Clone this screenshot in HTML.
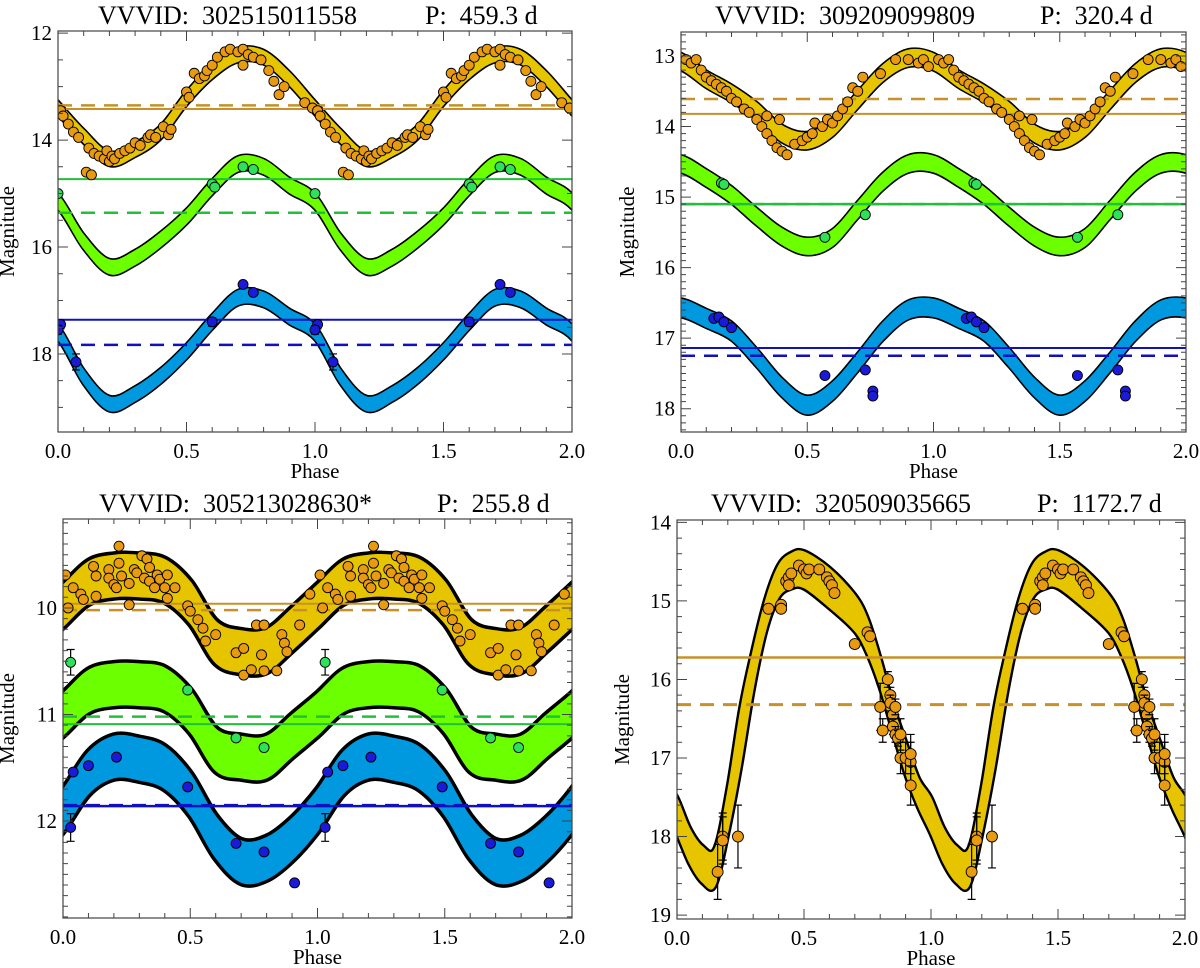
<!DOCTYPE html>
<html><head><meta charset="utf-8"><style>
html,body{margin:0;padding:0;background:#fff}
svg{display:block;font-family:"Liberation Serif",serif}
</style></head><body>
<svg id="fig" width="1200" height="968" viewBox="0 0 1200 968" xmlns="http://www.w3.org/2000/svg"></svg>
<script>
// ---------- Panel 1 data ----------
const p1Phases=[0,0.1,0.2,0.3,0.4,0.5,0.6,0.7,0.8,0.9,1.0];
const p1Yel=[13.4,13.93,14.35,14.18,13.85,13.22,12.72,12.41,12.45,12.85,13.4];
const p1Grn=[15.15,15.9,16.37,16.2,15.86,15.43,14.88,14.45,14.5,14.85,15.15];
const p1Blu=[17.6,18.43,18.93,18.75,18.41,17.95,17.4,16.95,16.98,17.3,17.6];
const p1Lines=[13.42,13.35,14.73,15.36,17.36,17.83];
const p1YelPtPh=[0.01,0.02,0.04,0.06,0.08,0.11,0.13,0.12,0.14,0.16,0.18,0.19,0.2,0.21,0.22,0.24,0.26,0.28,0.3,0.32,0.35,0.36,0.38,0.41,0.43,0.44,0.5,0.51,0.53,0.55,0.57,0.58,0.6,0.62,0.65,0.67,0.7,0.72,0.74,0.76,0.72,0.79,0.82,0.84,0.86,0.88,0.96,0.99];
const p1YelPtMag=[13.45,13.55,13.7,13.85,13.95,14.6,14.65,14.15,14.25,14.3,14.35,14.2,14.4,14.3,14.35,14.25,14.2,14.15,14.05,14.1,13.95,13.9,13.95,13.75,13.9,13.8,13.1,13.2,12.75,12.85,12.8,12.7,12.6,12.45,12.35,12.3,12.35,12.3,12.4,12.45,12.6,12.5,12.7,12.9,13.15,13.0,13.3,13.4];
const p1GrnPtPh=[0.0,0.6,0.61,0.72,0.76];
const p1GrnPtMag=[15.0,14.82,14.88,14.5,14.55];
const p1BluPtPh=[0.01,0.0,0.07,0.6,0.72,0.76];
const p1BluPtMag=[17.45,17.55,18.15,17.4,16.7,16.85];
// ---------- Panel 2 data ----------
const p2Phases=[0,0.1,0.2,0.3,0.4,0.5,0.6,0.7,0.8,0.9,1.0];
const p2Yel=[13.08,13.33,13.53,13.78,14.1,14.2,14.02,13.62,13.24,13.03,13.08];
const p2Grn=[14.53,14.73,14.97,15.28,15.56,15.7,15.58,15.18,14.78,14.53,14.53];
const p2Blu=[16.57,16.72,16.9,17.28,17.7,17.95,17.75,17.34,16.9,16.6,16.57];
const p2Lines=[13.82,13.61,15.1,15.1,17.14,17.25];
const p2YelPtPh=[0.02,0.04,0.06,0.08,0.1,0.12,0.14,0.16,0.18,0.2,0.22,0.25,0.27,0.3,0.32,0.34,0.36,0.38,0.4,0.42,0.34,0.39,0.45,0.48,0.5,0.52,0.53,0.56,0.58,0.6,0.62,0.64,0.66,0.68,0.7,0.72,0.79,0.85,0.9,0.94,0.96,0.98];
const p2YelPtMag=[13.05,13.1,13.05,13.2,13.3,13.35,13.4,13.45,13.5,13.6,13.65,13.75,13.8,13.9,14.0,14.1,14.2,14.3,14.35,14.4,13.85,13.9,14.25,14.2,14.15,14.1,13.95,14.0,13.9,13.95,13.85,13.75,13.65,13.45,13.5,13.3,13.25,13.05,13.05,13.1,13.05,13.15];
const p2GrnPtPh=[0.16,0.17,0.57,0.73];
const p2GrnPtMag=[14.8,14.82,15.57,15.25];
const p2BluPtPh=[0.13,0.15,0.17,0.2,0.57,0.73,0.76,0.76];
const p2BluPtMag=[16.72,16.7,16.77,16.85,17.53,17.45,17.75,17.82];
// ---------- Panel 3 data ----------
const p3Phases=[0,0.1,0.2,0.3,0.4,0.5,0.6,0.7,0.8,0.9,1.0];
const p3Yel=[9.98,9.76,9.7,9.7,9.74,9.95,10.32,10.41,10.4,10.2,9.98];
const p3Grn=[11.0,10.78,10.72,10.72,10.76,10.97,11.33,11.4,11.4,11.2,11.0];
const p3Blu=[11.9,11.55,11.4,11.42,11.5,11.75,12.15,12.38,12.35,12.17,11.9];
const p3Lines=[9.96,10.02,11.09,11.02,11.86,11.85];
const p3YelPtPh=[0.01,0.02,0.04,0.07,0.08,0.12,0.13,0.13,0.18,0.18,0.2,0.21,0.22,0.22,0.23,0.26,0.26,0.28,0.29,0.31,0.33,0.32,0.34,0.34,0.36,0.37,0.38,0.4,0.41,0.41,0.44,0.49,0.5,0.53,0.55,0.56,0.6,0.68,0.71,0.71,0.74,0.76,0.78,0.79,0.79,0.84,0.86,0.87,0.88,0.93,0.97];
const p3YelPtMag=[9.69,10.0,9.81,9.87,9.92,9.61,9.7,9.89,9.64,9.72,9.78,9.81,9.42,9.58,9.7,9.97,9.77,9.64,9.67,9.51,9.54,9.72,9.62,9.75,9.81,9.69,9.73,9.81,9.69,9.91,9.81,9.98,10.03,10.11,10.19,10.31,10.25,10.42,10.38,10.63,10.58,10.16,10.44,10.16,10.59,10.59,10.25,10.33,10.41,10.16,9.87];
const p3GrnPtPh=[0.03,0.49,0.68,0.79];
const p3GrnPtMag=[10.51,10.77,11.22,11.31];
const p3BluPtPh=[0.04,0.1,0.21,0.49,0.03,0.68,0.79,0.91];
const p3BluPtMag=[11.54,11.48,11.4,11.68,12.06,12.21,12.29,12.58];
// ---------- Panel 4 data ----------
const p4Phases=[0,0.05,0.1,0.15,0.2,0.25,0.3,0.35,0.4,0.45,0.5,0.6,0.7,0.75,0.8,0.85,0.9,0.95,1.0];
const p4Top=[17.5,17.89,18.12,18.14,17.38,16.36,15.6,14.96,14.54,14.39,14.37,14.58,14.92,15.22,15.73,16.32,16.79,17.25,17.5];
const p4Bot=[17.97,18.35,18.59,18.63,17.97,17.13,16.15,15.39,14.96,14.84,14.84,15.09,15.39,15.68,16.11,16.66,17.21,17.63,17.97];
const p4Lines=[15.72,16.32];
const p4PtPh=[0.16,0.18,0.18,0.24,0.36,0.41,0.41,0.43,0.44,0.44,0.45,0.48,0.5,0.51,0.52,0.56,0.59,0.6,0.61,0.62,0.7,0.75,0.76,0.8,0.81,0.83,0.84,0.84,0.85,0.85,0.86,0.86,0.87,0.88,0.88,0.9,0.92,0.92,0.92];
const p4PtMag=[18.45,18.0,18.05,18.0,15.1,15.05,15.1,14.75,14.7,14.8,14.65,14.55,14.6,14.65,14.6,14.6,14.7,14.75,14.8,14.9,15.55,15.4,15.45,16.35,16.65,16.0,16.2,16.3,16.45,16.6,16.35,16.7,16.75,16.7,17.0,17.0,17.05,16.95,17.35];
const p4PtErr=[0.35,0.3,0.3,0.4,0,0,0,0,0,0,0,0,0,0,0,0,0,0,0,0,0.05,0.05,0.05,0.3,0.15,0.1,0.1,0.1,0.1,0.1,0.1,0.1,0.1,0.2,0.2,0.2,0.25,0.25,0.25];

const NS="http://www.w3.org/2000/svg";
const svg=document.getElementById('fig');
function mk(tag,attrs,parent){const e=document.createElementNS(NS,tag);for(const k in attrs)e.setAttribute(k,attrs[k]);(parent||svg).appendChild(e);return e;}

const YEL='#e6c400',ORG='#e89a10',LINEY='#c8902a',GFILL='#6cff00',GPT='#2ee05a',GLINE='#22c03a',BFILL='#0099e0',BPT='#1a1ad8',BLINE='#1010c0';

function makePanel(o){
  const g=mk('g',{});
  
  
  const sx=p=>o.x0+(o.x1-o.x0)*p/2;
  const sy=m=>o.y0+(o.y1-o.y0)*(m-o.m0)/(o.m1-o.m0);
  const cid='clip-'+o.name;
  const cp=mk('clipPath',{id:cid},g);
  mk('rect',{x:o.x0,y:o.y0,width:o.x1-o.x0,height:o.y1-o.y0},cp);
  const plot=mk('g',{'clip-path':'url(#'+cid+')'},g);
  return {g,sx,sy,plot,o};
}
function catmull(pts){
  let d='M'+pts[0][0].toFixed(1)+','+pts[0][1].toFixed(1);
  for(let i=0;i<pts.length-1;i++){
    const p0=pts[Math.max(i-1,0)],p1=pts[i],p2=pts[i+1],p3=pts[Math.min(i+2,pts.length-1)];
    const c1=[p1[0]+(p2[0]-p0[0])/6,p1[1]+(p2[1]-p0[1])/6];
    const c2=[p2[0]-(p3[0]-p1[0])/6,p2[1]-(p3[1]-p1[1])/6];
    d+='C'+c1[0].toFixed(1)+','+c1[1].toFixed(1)+' '+c2[0].toFixed(1)+','+c2[1].toFixed(1)+' '+p2[0].toFixed(1)+','+p2[1].toFixed(1);
  }
  return d;
}
function extPts(P,phases,mags){
  const pts=[];
  for(let k=-1;k<=2;k++)for(let i=0;i<phases.length-1;i++)pts.push([P.sx(phases[i]+k),P.sy(mags[i])]);
  pts.push([P.sx(phases[phases.length-1]+2),P.sy(mags[mags.length-1])]);
  return pts;
}
function band(P,phases,top,bot,fill,lw,name){
  const a=extPts(P,phases,top),b=extPts(P,phases,bot);
  const da=catmull(a),db=catmull(b);
  const s1=mk('path',{d:da,fill:'none',stroke:'#000','stroke-width':lw*2},P.plot);
  
  
  const s2=mk('path',{d:db,fill:'none',stroke:'#000','stroke-width':lw*2},P.plot);
  
  
  const br=b.slice().reverse();
  const f=mk('path',{d:da+'L'+catmull(br).slice(1)+'Z',fill:fill,stroke:'none'},P.plot);
  
  
}
function hline(P,m,color,dash,w,name){
  const l=mk('line',{x1:P.o.x0,x2:P.o.x1,y1:P.sy(m),y2:P.sy(m),stroke:color,'stroke-width':w,'stroke-dasharray':dash?'14,9':'none'},P.plot);
  
  
}
function points(P,ph,mg,color,r,name,errs){
  for(let k=0;k<2;k++)for(let i=0;i<ph.length;i++){
    const p=ph[i]+k;if(p>2)continue;
    const x=P.sx(p),y=P.sy(mg[i]);
    if(errs&&errs[i]>0){
      const e=mk('path',{d:'M'+x+','+P.sy(mg[i]-errs[i])+'V'+P.sy(mg[i]+errs[i])+'M'+(x-4)+','+P.sy(mg[i]-errs[i])+'h8M'+(x-4)+','+P.sy(mg[i]+errs[i])+'h8',stroke:'#000','stroke-width':1.2,fill:'none'},P.plot);
      
      
    }
    const c=mk('circle',{cx:x,cy:y,r:r,fill:color,stroke:'#000','stroke-width':0.9},P.plot);
    
    
  }
}
function axes(P,yMajor,yMinor,yLabels,magX,title1,title2,t1x,t2x,ty){
  const o=P.o,g=P.g;
  const fr=mk('rect',{x:o.x0,y:o.y0,width:o.x1-o.x0,height:o.y1-o.y0,fill:'none',stroke:'#444','stroke-width':1.2},g);
  
  
  let d='';
  for(let i=0;i<=20;i++){const x=P.sx(i*0.1);const L=(i%5==0)?10:5;d+='M'+x+','+o.y1+'v'+(-L)+'M'+x+','+o.y0+'v'+L;}
  const n=Math.round((o.m1-o.m0)/yMinor)+2;
  const start=Math.ceil(o.m0/yMinor-1e-6)*yMinor;
  for(let i=0;i<n;i++){const m=start+i*yMinor;if(m>o.m1+1e-6)break;const y=P.sy(m);
    const maj=Math.abs(m/yMajor-Math.round(m/yMajor))<1e-6;const L=maj?10:5;
    d+='M'+o.x0+','+y+'h'+L+'M'+o.x1+','+y+'h'+(-L);}
  const t=mk('path',{d:d,stroke:'#444','stroke-width':1,fill:'none'},g);
  
  
  const xl=['0.0','0.5','1.0','1.5','2.0'];
  xl.forEach((s,i)=>{const e=mk('text',{x:P.sx(i*0.5),y:o.y1+26,'font-size':21,'text-anchor':'middle'},g);e.textContent=s;
    
    });
  yLabels.forEach(m=>{const e=mk('text',{x:o.x0-6,y:P.sy(m)+7,'font-size':21,'text-anchor':'end'},g);e.textContent=String(m);
    
    });
  const xt=mk('text',{x:(o.x0+o.x1)/2,y:o.y1+46,'font-size':21,'text-anchor':'middle'},g);xt.textContent='Phase';
  
  
  const yy=(o.y0+o.y1)/2;
  const yt=mk('text',{x:magX,y:yy,'font-size':21,'text-anchor':'middle',transform:'rotate(-90 '+magX+' '+yy+')'},g);yt.textContent='Magnitude';
  
  
  const a=mk('text',{x:t1x,y:ty,'font-size':26},g);a.textContent=title1;
  
  
  const b=mk('text',{x:t2x,y:ty,'font-size':26},g);b.textContent=title2;
  
  
}

// Panel 1
let P=makePanel({name:'panel-302515011558',x0:58,x1:572,y0:31,y1:432,m0:11.96,m1:19.46});
band(P,p1Phases,p1Yel.map(v=>v-0.13),p1Yel.map(v=>v+0.13),YEL,1.6,'ks-band');
band(P,p1Phases,p1Grn.map(v=>v-0.14),p1Grn.map(v=>v+0.14),GFILL,1.6,'h-band');
band(P,p1Phases,p1Blu.map(v=>v-0.14),p1Blu.map(v=>v+0.14),BFILL,1.6,'j-band');
hline(P,p1Lines[0],LINEY,false,2,'ks-mean-line');hline(P,p1Lines[1],LINEY,true,2.5,'ks-dashed-line');
hline(P,p1Lines[2],GLINE,false,2,'h-mean-line');hline(P,p1Lines[3],GLINE,true,2.5,'h-dashed-line');
hline(P,p1Lines[4],BLINE,false,2,'j-mean-line');hline(P,p1Lines[5],BLINE,true,2.5,'j-dashed-line');
points(P,p1YelPtPh,p1YelPtMag,ORG,5,'ks-point');
points(P,p1GrnPtPh,p1GrnPtMag,GPT,5,'h-point');
points(P,p1BluPtPh,p1BluPtMag,BPT,5,'j-point',[0.08,0.08,0.15,0.08,0,0.05]);
axes(P,2,0.5,[12,14,16,18],14,'VVVID:\u00a0\u00a0302515011558','P:\u00a0\u00a0459.3 d',98,425,24);

// Panel 2
P=makePanel({name:'panel-309209099809',x0:681,x1:1186,y0:32,y1:432,m0:12.66,m1:18.33});
band(P,p2Phases,p2Yel.map(v=>v-0.12),p2Yel.map(v=>v+0.12),YEL,1.6,'ks-band');
band(P,p2Phases,p2Grn.map(v=>v-0.12),p2Grn.map(v=>v+0.12),GFILL,1.6,'h-band');
band(P,p2Phases,p2Blu.map(v=>v-0.13),p2Blu.map(v=>v+0.13),BFILL,1.6,'j-band');
hline(P,p2Lines[0],LINEY,false,2,'ks-mean-line');hline(P,p2Lines[1],LINEY,true,2.5,'ks-dashed-line');
hline(P,p2Lines[2],GLINE,false,2.5,'h-mean-line');hline(P,p2Lines[3],GLINE,true,2.5,'h-dashed-line');
hline(P,p2Lines[4],BLINE,false,2,'j-mean-line');hline(P,p2Lines[5],BLINE,true,2.5,'j-dashed-line');
points(P,p2YelPtPh,p2YelPtMag,ORG,5,'ks-point');
points(P,p2GrnPtPh,p2GrnPtMag,GPT,5,'h-point');
points(P,p2BluPtPh,p2BluPtMag,BPT,5,'j-point');
axes(P,1,0.1,[13,14,15,16,17,18],634,'VVVID:\u00a0\u00a0309209099809','P:\u00a0\u00a0320.4 d',715,1040,24);

// Panel 3
P=makePanel({name:'panel-305213028630',x0:63,x1:572,y0:519,y1:918,m0:9.165,m1:12.91});
band(P,p3Phases,p3Yel.map(v=>v-0.2),p3Yel.map(v=>v+0.2),YEL,3.5,'ks-band');
band(P,p3Phases,p3Grn.map(v=>v-0.2),p3Grn.map(v=>v+0.2),GFILL,3.5,'h-band');
band(P,p3Phases,p3Blu.map(v=>v-0.2),p3Blu.map(v=>v+0.2),BFILL,3.5,'j-band');
hline(P,p3Lines[0],LINEY,false,2,'ks-mean-line');hline(P,p3Lines[1],LINEY,true,2.5,'ks-dashed-line');
hline(P,p3Lines[2],GLINE,false,2,'h-mean-line');hline(P,p3Lines[3],GLINE,true,2.5,'h-dashed-line');
hline(P,p3Lines[4],BLINE,false,2.5,'j-mean-line');hline(P,p3Lines[5],BLINE,true,2.5,'j-dashed-line');
points(P,p3YelPtPh,p3YelPtMag,ORG,5,'ks-point');
points(P,p3GrnPtPh,p3GrnPtMag,GPT,5,'h-point',[0.12,0.03,0,0.03]);
points(P,p3BluPtPh,p3BluPtMag,BPT,5,'j-point',[0,0.03,0,0,0.13,0,0,0.03]);
axes(P,1,0.1,[10,11,12],14,'VVVID:\u00a0\u00a0305213028630*','P:\u00a0\u00a0255.8 d',99,437,512);

// Panel 4
P=makePanel({name:'panel-320509035665',x0:677,x1:1185,y0:520,y1:919,m0:13.97,m1:19.05});
band(P,p4Phases,p4Top,p4Bot,YEL,2.4,'ks-band');
hline(P,p4Lines[0],LINEY,false,2.5,'ks-mean-line');hline(P,p4Lines[1],LINEY,true,3,'ks-dashed-line');
points(P,p4PtPh,p4PtMag,ORG,5.5,'ks-point',p4PtErr);
axes(P,1,0.2,[14,15,16,17,18,19],629,'VVVID:\u00a0\u00a0320509035665','P:\u00a0\u00a01172.7 d',711,1037,512);
</script>
</body></html>
